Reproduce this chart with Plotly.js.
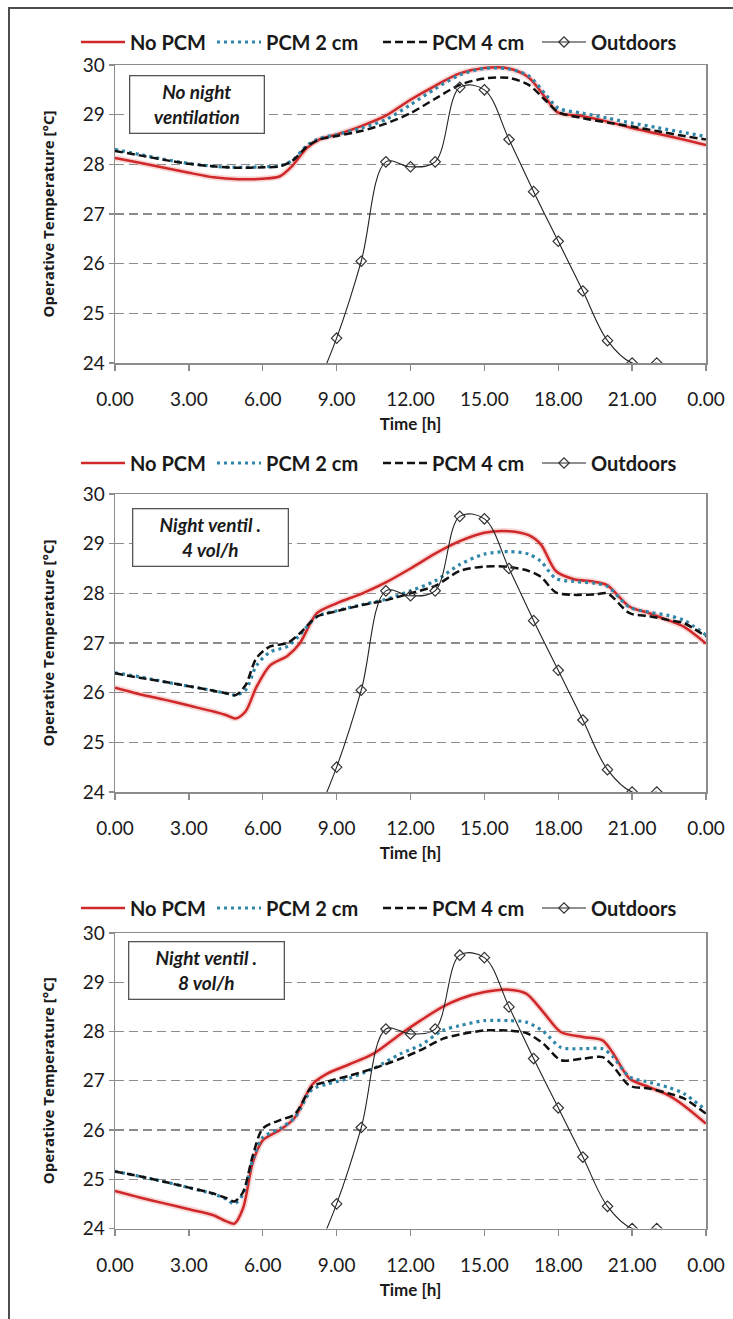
<!DOCTYPE html>
<html>
<head>
<meta charset="utf-8">
<script src="https://cdn.plot.ly/plotly-3.0.1.min.js"></script>
<style>
  html, body { margin: 0; padding: 0; background: #fff; }
  #chart { width: 733px; height: 1319px; }
</style>
</head>
<body>
<div id="chart"></div>
<script>
// Time axis ticks (hours of the day)
const tickHours = [0, 3, 6, 9, 12, 15, 18, 21, 24];
const tickLabels = ['0.00', '3.00', '6.00', '9.00', '12.00', '15.00', '18.00', '21.00', '0.00'];

const seriesNames = ['No PCM', 'PCM 2 cm', 'PCM 4 cm', 'Outdoors'];

// Outdoor air temperature (same day for every case)
const outdoorHours = [8, 9, 10, 11, 12, 13, 14, 15, 16, 17, 18, 19, 20, 21, 22];
const outdoorTemp  = [23.3, 24.5, 26.05, 28.05, 27.95, 28.05, 29.55, 29.5, 28.5, 27.45, 26.45, 25.45, 24.45, 24.0, 24.0];

// Case 1: no night ventilation
const hours1 = [0, 1, 2, 3, 4, 5, 6, 6.7, 7.2, 7.8, 8.3, 9, 10, 11, 12, 13, 14, 15, 16, 16.8, 17.5, 18, 19, 20, 21, 22, 23, 24];
const noPcm1 = [28.13, 28.03, 27.93, 27.83, 27.74, 27.70, 27.71, 27.76, 27.97, 28.33, 28.50, 28.60, 28.77, 28.98, 29.30, 29.58, 29.83, 29.94, 29.93, 29.75, 29.33, 29.04, 28.97, 28.86, 28.73, 28.62, 28.51, 28.39];
const pcm2cm1 = [28.30, 28.20, 28.10, 28.02, 27.96, 27.94, 27.95, 27.97, 28.08, 28.38, 28.52, 28.60, 28.73, 28.90, 29.20, 29.52, 29.80, 29.93, 29.92, 29.78, 29.40, 29.13, 29.03, 28.93, 28.83, 28.74, 28.65, 28.56];
const pcm4cm1 = [28.27, 28.18, 28.09, 28.01, 27.96, 27.93, 27.94, 27.96, 28.07, 28.36, 28.50, 28.57, 28.67, 28.82, 29.03, 29.32, 29.60, 29.73, 29.74, 29.60, 29.28, 29.05, 28.93, 28.84, 28.76, 28.67, 28.58, 28.50];

// Case 2: night ventilation 4 vol/h
const hours2 = [0, 1, 2, 3, 4, 4.5, 4.9, 5.3, 5.75, 6.3, 7, 7.5, 8.2, 9, 10, 11, 12, 13, 14, 15, 16, 16.8, 17.3, 17.9, 18.6, 19.5, 20, 20.9, 21.7, 22.5, 23.1, 24];
const noPcm2 = [26.10, 25.97, 25.86, 25.74, 25.62, 25.55, 25.48, 25.62, 26.12, 26.55, 26.74, 26.99, 27.60, 27.80, 27.99, 28.22, 28.50, 28.80, 29.05, 29.22, 29.25, 29.17, 28.98, 28.45, 28.29, 28.23, 28.16, 27.73, 27.60, 27.45, 27.33, 26.99];
const pcm2cm2 = [26.40, 26.32, 26.22, 26.13, 26.04, 25.99, 25.95, 26.05, 26.55, 26.82, 26.93, 27.16, 27.53, 27.65, 27.77, 27.88, 28.05, 28.25, 28.58, 28.79, 28.84, 28.79, 28.64, 28.30, 28.24, 28.20, 28.14, 27.72, 27.62, 27.55, 27.46, 27.16];
const pcm4cm2 = [26.39, 26.30, 26.22, 26.13, 26.04, 25.99, 25.95, 26.15, 26.70, 26.93, 27.00, 27.19, 27.53, 27.64, 27.76, 27.86, 28.00, 28.15, 28.45, 28.54, 28.53, 28.45, 28.33, 28.02, 27.97, 27.98, 28.00, 27.60, 27.54, 27.46, 27.40, 27.13];

// Case 3: night ventilation 8 vol/h
const hours3 = [0, 1, 2, 3, 4, 4.5, 4.85, 5.2, 5.6, 6, 6.7, 7.3, 8, 8.6, 9.5, 10.5, 11.6, 12.4, 13.3, 14, 15, 16, 16.7, 17.4, 18.1, 19, 19.8, 20.2, 20.9, 21.7, 22.5, 23.1, 24];
const noPcm3 = [24.76, 24.63, 24.51, 24.39, 24.27, 24.15, 24.10, 24.41, 25.35, 25.79, 26.00, 26.25, 26.92, 27.14, 27.33, 27.55, 27.95, 28.22, 28.50, 28.66, 28.80, 28.85, 28.77, 28.39, 27.99, 27.89, 27.82, 27.58, 27.04, 26.87, 26.70, 26.50, 26.13];
const pcm2cm3 = [25.16, 25.06, 24.95, 24.83, 24.70, 24.60, 24.50, 24.70, 25.40, 25.85, 26.03, 26.25, 26.82, 26.93, 27.05, 27.25, 27.55, 27.72, 28.02, 28.12, 28.22, 28.22, 28.19, 28.00, 27.68, 27.65, 27.65, 27.50, 27.08, 26.97, 26.86, 26.74, 26.40];
const pcm4cm3 = [25.16, 25.06, 24.95, 24.83, 24.71, 24.62, 24.55, 24.74, 25.49, 26.03, 26.20, 26.32, 26.88, 26.98, 27.10, 27.25, 27.45, 27.62, 27.85, 27.94, 28.02, 28.02, 27.97, 27.75, 27.42, 27.45, 27.48, 27.31, 26.90, 26.84, 26.74, 26.64, 26.33];

const caseLabels = ['No night<br>ventilation', 'Night ventil .<br>4 vol/h', 'Night ventil .<br>8 vol/h'];

const cases = [
  { hours: hours1, series: [noPcm1, pcm2cm1, pcm4cm1] },
  { hours: hours2, series: [noPcm2, pcm2cm2, pcm4cm2] },
  { hours: hours3, series: [noPcm3, pcm2cm3, pcm4cm3] }
];

const RED = '#d02828';
const TEAL = '#2f86a8';
const BLACK = '#111111';
const GRID = '#8c8c8c';
const TEXT = '#1a1a1a';
const FONT = 'Lato, "Open Sans", sans-serif';

// one legend per entry so each row can span the full page width
const legendId = (panel, item) => {
  const k = panel * 4 + item + 1;
  return k === 1 ? 'legend' : 'legend' + k;
};

const lineStyles = [
  { color: RED, width: 2.5, shape: 'spline', smoothing: 0.8 },
  { color: TEAL, width: 3.2, dash: '3px,4px', shape: 'spline', smoothing: 0.8 },
  { color: BLACK, width: 2.5, dash: '8px,4px', shape: 'spline', smoothing: 0.8 }
];

const traces = [];
cases.forEach((c, i) => {
  const n = i === 0 ? '' : String(i + 1);
  const xa = 'x' + n, ya = 'y' + n;
  // soft glow under the red curve
  traces.push({
    x: c.hours, y: c.series[0], xaxis: xa, yaxis: ya, mode: 'lines',
    line: { color: 'rgba(230,110,110,0.28)', width: 6, shape: 'spline', smoothing: 0.8 },
    showlegend: false, hoverinfo: 'skip', legend: legendId(i, 0)
  });
  for (let s = 0; s < 3; s++) {
    traces.push({
      x: c.hours, y: c.series[s], xaxis: xa, yaxis: ya, mode: 'lines',
      name: seriesNames[s], legend: legendId(i, s), line: lineStyles[s]
    });
  }
  traces.push({
    x: outdoorHours, y: outdoorTemp, xaxis: xa, yaxis: ya, mode: 'lines+markers',
    name: seriesNames[3], legend: legendId(i, 3),
    line: { color: '#222', width: 1.1, shape: 'spline', smoothing: 1 },
    marker: { symbol: 'diamond-open', size: 8, color: '#333', line: { width: 1.2, color: '#333' } }
  });
});

const H = 1319, W = 733, ML = 115, MR = 27;
const PW = W - ML - MR;
// plot-area pixel extents (top = 30 °C, bottom = 24 °C)
const panels = [ { top: 65, bottom: 363 }, { top: 494, bottom: 792 }, { top: 933, bottom: 1228.5 } ];
const legendRows = [42, 463, 908];
const legendLeft = [76, 212, 378, 537];
const boxes = [
  { cx: 196.5, cy: 104, w: 127 },
  { cx: 210, cy: 537.5, w: 148 },
  { cx: 206, cy: 970.5, w: 148 }
];

function xAxis(i) {
  const n = i === 0 ? '' : String(i + 1);
  return {
    anchor: 'y' + n, range: [0, 24], domain: [0, 1],
    tickmode: 'array', tickvals: tickHours, ticktext: tickLabels,
    ticks: 'outside', ticklen: 6, tickwidth: 1.3, tickcolor: GRID,
    ticklabelstandoff: 13,
    showline: true, linecolor: GRID, linewidth: 1.5, mirror: true,
    showgrid: false, zeroline: false,
    tickfont: { family: FONT, size: 19, color: TEXT },
    title: { text: 'Time [h]', standoff: 9, font: { family: FONT, size: 17, color: TEXT, weight: 700 } }
  };
}
function yAxis(i) {
  const n = i === 0 ? '' : String(i + 1);
  const p = panels[i];
  return {
    anchor: 'x' + n, range: [24, 30], dtick: 1, tick0: 24,
    domain: [1 - p.bottom / H, 1 - p.top / H],
    ticks: 'outside', ticklen: 5, tickwidth: 1.3, tickcolor: GRID,
    showline: true, linecolor: GRID, linewidth: 1.5, mirror: true,
    showgrid: true, gridcolor: GRID, gridwidth: 1.3, griddash: '9px,5px',
    zeroline: false,
    tickfont: { family: FONT, size: 19, color: TEXT },
    title: { text: 'Operative Temperature [°C]', standoff: 24,
      font: { family: '"Open Sans", sans-serif', size: 15, color: TEXT, weight: 700 } }
  };
}

const layout = {
  width: W, height: H,
  margin: { l: ML, r: MR, t: 0, b: 0 },
  paper_bgcolor: '#fff', plot_bgcolor: '#fff',
  showlegend: true,
  annotations: [],
  shapes: [
    // page frame (left and top edges)
    { type: 'line', xref: 'paper', yref: 'paper', x0: (9 - ML) / PW, x1: (9 - ML) / PW, y0: -0.02, y1: 1 - 7 / H,
      line: { color: '#4d4d4d', width: 2 } },
    { type: 'line', xref: 'paper', yref: 'paper', x0: (9 - ML) / PW, x1: (W + 5 - ML) / PW, y0: 1 - 8 / H, y1: 1 - 8 / H,
      line: { color: '#4d4d4d', width: 2 } }
  ]
};

for (let i = 0; i < 3; i++) {
  const n = i === 0 ? '' : String(i + 1);
  layout['xaxis' + n] = xAxis(i);
  layout['yaxis' + n] = yAxis(i);
  for (let s = 0; s < 4; s++) {
    layout[legendId(i, s)] = {
      orientation: 'h', x: (legendLeft[s] - ML) / PW, xanchor: 'left',
      y: 1 - legendRows[i] / H, yanchor: 'middle',
      font: { family: FONT, size: 20, color: TEXT, weight: 700 },
      bgcolor: 'rgba(0,0,0,0)', itemwidth: 44
    };
  }
  const p = panels[i], b = boxes[i];
  layout.annotations.push({
    xref: 'x' + n + ' domain', yref: 'y' + n + ' domain',
    x: (b.cx - ML) / PW, y: (p.bottom - b.cy) / (p.bottom - p.top),
    xanchor: 'center', yanchor: 'middle', showarrow: false,
    text: caseLabels[i], align: 'center',
    width: b.w, height: 50, borderpad: 3,
    bordercolor: '#555', borderwidth: 1.3, bgcolor: '#fff',
    font: { family: FONT, size: 19, color: TEXT, weight: 700, style: 'italic' }
  });
}

Plotly.newPlot('chart', traces, layout, { displayModeBar: false, staticPlot: true });
</script>
</body>
</html>
